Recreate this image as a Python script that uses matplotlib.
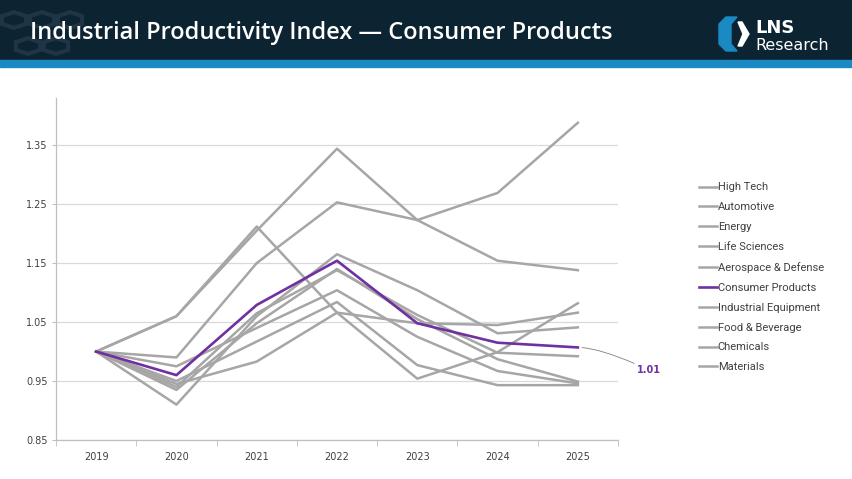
import matplotlib
matplotlib.use("Agg")
import matplotlib.pyplot as plt
from matplotlib.patches import Rectangle, Polygon, RegularPolygon

years = ["2019", "2020", "2021", "2022", "2023", "2024", "2025"]

high_tech = [1.0, 0.99, 1.15, 1.253, 1.223, 1.269, 1.388]
automotive = [1.0, 1.06, 1.205, 1.344, 1.223, 1.154, 1.138]
energy = [1.0, 1.06, 1.212, 1.066, 1.048, 1.045, 1.066]
life_sciences = [1.0, 0.91, 1.06, 1.165, 1.104, 1.031, 1.041]
aerospace = [1.0, 0.94, 1.065, 1.138, 1.062, 0.998, 0.992]
consumer = [1.0, 0.96, 1.079, 1.154, 1.048, 1.015, 1.007]
industrial_eq = [1.0, 0.975, 1.04, 1.104, 1.025, 0.967, 0.946]
food_bev = [1.0, 0.95, 1.017, 1.084, 0.977, 0.943, 0.943]
chemicals = [1.0, 0.945, 0.983, 1.066, 0.954, 0.999, 1.082]
materials = [1.0, 0.935, 1.048, 1.14, 1.055, 0.987, 0.949]

series = [
    ("High Tech", high_tech),
    ("Automotive", automotive),
    ("Energy", energy),
    ("Life Sciences", life_sciences),
    ("Aerospace & Defense", aerospace),
    ("Consumer Products", consumer),
    ("Industrial Equipment", industrial_eq),
    ("Food & Beverage", food_bev),
    ("Chemicals", chemicals),
    ("Materials", materials),
]
highlight = "Consumer Products"

yticks = [0.85, 0.95, 1.05, 1.15, 1.25, 1.35]

GRAY = "#a6a6a6"
PURPLE = "#7030a0"
NAVY = "#0c2332"
STRIPE = "#1b8ac2"
TXT = "#404040"

fig = plt.figure(figsize=(8.52, 4.79), dpi=100)
fig.patch.set_facecolor("white")


def fx(px):
    return px / 852


def fy(py):
    return 1 - py / 479


# header band + blue stripe
fig.patches.append(Rectangle((0, fy(60)), 1, 60 / 479, transform=fig.transFigure,
                             color=NAVY, zorder=0))
fig.patches.append(Rectangle((0, fy(67)), 1, 7 / 479, transform=fig.transFigure,
                             color=STRIPE, zorder=0))

# faint hex pattern in the corner of the header
for cx, cy in [(14, 20), (42, 20), (70, 20), (28, 46), (56, 46)]:
    fig.patches.append(RegularPolygon((fx(cx), fy(cy)), numVertices=6, radius=14 / 852,
                                      orientation=0, transform=fig.transFigure,
                                      fill=False, edgecolor="#1f3444", lw=3, zorder=1))

fig.text(fx(30), fy(33), "Industrial Productivity Index \u2014 Consumer Products",
         color="white", fontsize=17.0, family="Open Sans", fontweight="semibold",
         va="center", ha="left")

# logo: bracket shapes + text
left_br = [(726, 17), (737, 17), (731, 24), (731, 44), (737, 51), (726, 51), (719, 44), (719, 24)]
right_ch = [(738, 22), (742, 22), (749, 34), (742, 46), (738, 46), (743, 34)]
fig.patches.append(Polygon([(fx(a), fy(b)) for a, b in left_br], closed=True,
                           transform=fig.transFigure, color=STRIPE))
fig.patches.append(Polygon([(fx(a), fy(b)) for a, b in right_ch], closed=True,
                           transform=fig.transFigure, color="white"))
fig.text(fx(755), fy(28), "LNS", color="white", fontsize=13, fontweight="bold",
         va="center", ha="left")
fig.text(fx(755), fy(46), "Research", color="white", fontsize=11.5, va="center", ha="left")

ax = fig.add_axes([fx(56), fy(440), 562 / 852, 342 / 479])
x = list(range(len(years)))

for name, vals in series:
    if name == highlight:
        continue
    ax.plot(x, vals, color=GRAY, lw=1.8, label=name, zorder=2)
ax.plot(x, consumer, color=PURPLE, lw=1.9, label=highlight, zorder=3)

ax.set_xlim(-0.5, len(years) - 0.5)
ax.set_ylim(0.85, 1.43)
ax.set_yticks(yticks)
ax.set_yticklabels(["%.2f" % v for v in yticks])
ax.set_xticks(x)
ax.set_xticklabels(years)
ax.set_xticks([i - 0.5 for i in range(len(years) + 1)], minor=True)
ax.tick_params(axis="x", which="major", length=0, pad=9, labelsize=7, colors=TXT)
ax.tick_params(axis="x", which="minor", length=4, color="#bfbfbf", direction="out")
ax.tick_params(axis="y", length=3, color="#bfbfbf", labelsize=7, colors=TXT, pad=3)
ax.grid(axis="y", color="#d9d9d9", lw=0.9)
ax.set_axisbelow(True)
for s in ["top", "right"]:
    ax.spines[s].set_visible(False)
for s in ["left", "bottom"]:
    ax.spines[s].set_color("#bfbfbf")
    ax.spines[s].set_linewidth(0.9)

# callout for consumer products final value
ax.annotate("%.2f" % consumer[-1], xy=(x[-1], consumer[-1]), xycoords="data",
            xytext=(fx(637), fy(370)), textcoords="figure fraction",
            color=PURPLE, fontsize=7, fontweight="bold", va="center", ha="left",
            arrowprops=dict(arrowstyle="-", color="#7f7f7f", lw=0.6,
                            connectionstyle="angle3,angleA=-25,angleB=0",
                            shrinkA=0, shrinkB=3),
            annotation_clip=False)

# legend in original order
handles, labels = ax.get_legend_handles_labels()
order = [name for name, _ in series]
hmap = dict(zip(labels, handles))
leg = fig.legend([hmap[n] for n in order], order, loc="upper left",
                 bbox_to_anchor=(fx(695), fy(178)), frameon=False,
                 prop={"family": "Roboto", "size": 8}, handlelength=1.6,
                 handletextpad=0.05, labelspacing=0.89, borderaxespad=0)
for t in leg.get_texts():
    t.set_color(TXT)

fig.savefig("out.png", dpi=100)
